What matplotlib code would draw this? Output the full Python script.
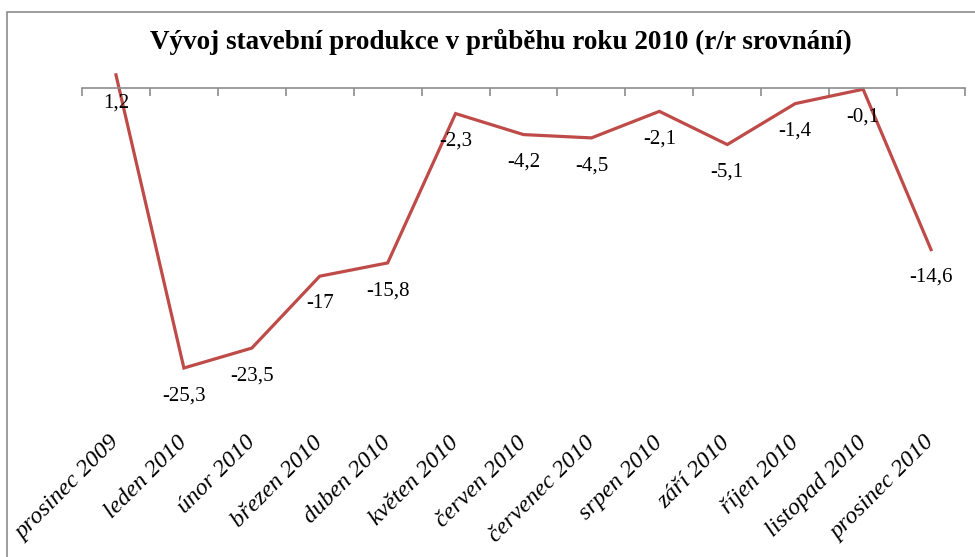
import matplotlib.pyplot as plt
import matplotlib.patches as mpatches
import matplotlib.transforms as mtransforms
import numpy as np

# data
mesice = ['prosinec 2009', 'leden 2010', 'únor 2010', 'březen 2010', 'duben 2010',
          'květen 2010', 'červen 2010', 'červenec 2010', 'srpen 2010', 'září 2010',
          'říjen 2010', 'listopad 2010', 'prosinec 2010']
hodnoty = [1.2, -25.3, -23.5, -17, -15.8, -2.3, -4.2, -4.5, -2.1, -5.1, -1.4, -0.1, -14.6]
titulek = 'Vývoj stavební produkce v průběhu roku 2010 (r/r srovnání)'

plt.rcParams['font.family'] = ['Liberation Serif', 'DejaVu Serif']

fig = plt.figure(figsize=(9.75, 5.57), dpi=100)
# outer frame of the chart area
fig.patches.append(mpatches.Rectangle((7/975, -0.1), 1.2, 1 - 12/557 + 0.1,
                                      transform=fig.transFigure, fill=False,
                                      edgecolor='#8c8c8c', linewidth=1.2))

ax = fig.add_axes([82/975, 1 - 420/557, (965 - 82)/975, 354/557])
x = np.arange(len(mesice))
ax.plot(x, hodnoty, color='#BE4B48', linewidth=2.3, solid_joinstyle='miter', clip_on=False)

for xi, v in zip(x, hodnoty):
    ax.annotate(('%g' % v).replace('.', ','), (xi, v), xytext=(0, -20),
                textcoords='offset points', ha='center', va='center', fontsize=15)

ax.set_xlim(-0.5, len(mesice) - 0.5)
ax.set_ylim(-30, 2)
ax.set_yticks([])

# category axis crosses at zero, ticks between categories
for s in ['left', 'right', 'bottom']:
    ax.spines[s].set_visible(False)
ax.spines['top'].set_position(('data', 0))
ax.spines['top'].set_color('#8c8c8c')
ax.spines['top'].set_linewidth(1.2)

ax.set_xticks(x)
ax.set_xticks(np.arange(len(mesice) + 1) - 0.5, minor=True)
ax.set_xticklabels(mesice, rotation=45, ha='right', va='center',
                   rotation_mode='anchor', fontsize=17.5, style='italic')
shift = mtransforms.ScaledTranslation(8/100, 0, fig.dpi_scale_trans)
for lbl in ax.get_xticklabels():
    lbl.set_transform(lbl.get_transform() + shift)
ax.tick_params(which='major', top=False, bottom=True, length=0, pad=14)
ax.tick_params(which='minor', top=True, bottom=False, direction='in',
               length=6, color='#8c8c8c', width=1.2)

fig.text(501/975, 1 - 42/557, titulek, ha='center', va='center',
         fontsize=19.5, fontweight='bold')

fig.savefig('out.png', dpi=100)
